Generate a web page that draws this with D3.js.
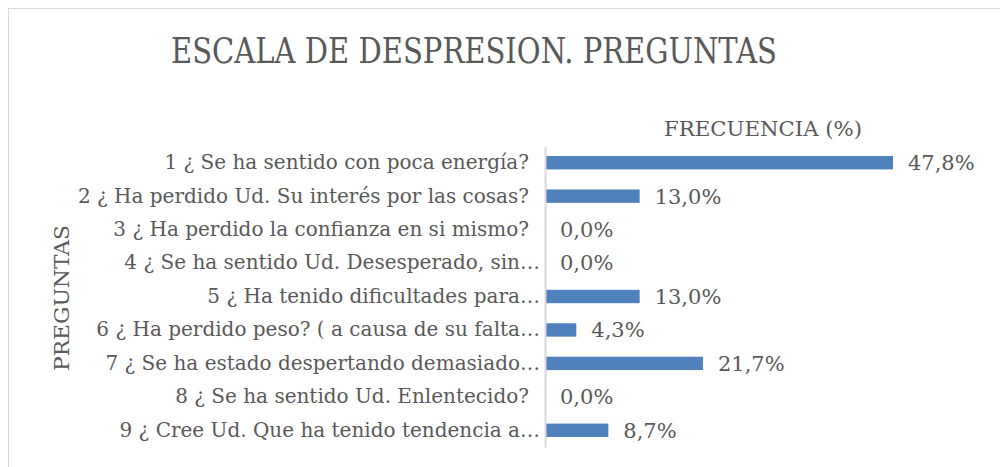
<!DOCTYPE html>
<html>
<head>
<meta charset="utf-8">
<script src="https://cdn.jsdelivr.net/npm/d3@7"></script>
<style>
  body { margin: 0; background: #fff; }
  text { font-family: "DejaVu Serif", serif; fill: #595959; }
</style>
</head>
<body>
<script>
  var w = 1000, h = 467;

  var preguntas = [
    "1 ¿ Se ha sentido con poca energía?",
    "2 ¿ Ha perdido Ud. Su interés por las cosas?",
    "3 ¿ Ha perdido la confianza en si mismo?",
    "4 ¿ Se ha sentido Ud. Desesperado, sin…",
    "5 ¿ Ha tenido dificultades para…",
    "6 ¿ Ha perdido peso? ( a causa de su falta…",
    "7 ¿ Se ha estado despertando demasiado…",
    "8 ¿ Se ha sentido Ud. Enlentecido?",
    "9 ¿ Cree Ud. Que ha tenido tendencia a…"
  ];
  var frecuencia = [47.8, 13.0, 0.0, 0.0, 13.0, 4.3, 21.7, 0.0, 8.7];

  var svg = d3.select("body").append("svg")
    .attr("width", w)
    .attr("height", h);

  // chart frame
  svg.append("rect")
    .attr("x", 8.5).attr("y", 8.5)
    .attr("width", w + 10).attr("height", h + 10)
    .attr("fill", "none")
    .attr("stroke", "#d9d9d9");

  var xScale = d3.scaleLinear()
    .domain([0, 50])
    .range([545, 909]);

  var yScale = d3.scaleBand()
    .domain(preguntas)
    .range([146, 447])
    .paddingInner(0.6)
    .paddingOuter(0.3);

  // title
  svg.append("text")
    .attr("x", 474).attr("y", 63)
    .attr("text-anchor", "middle")
    .attr("font-size", 36)
    .attr("textLength", 606)
    .attr("lengthAdjust", "spacingAndGlyphs")
    .text("ESCALA DE DESPRESION. PREGUNTAS");

  svg.append("text")
    .attr("x", 763).attr("y", 136)
    .attr("text-anchor", "middle")
    .attr("font-size", 21)
    .attr("textLength", 198)
    .attr("lengthAdjust", "spacingAndGlyphs")
    .text("FRECUENCIA (%)");

  svg.append("text")
    .attr("transform", "translate(69,298) rotate(-90)")
    .attr("text-anchor", "middle")
    .attr("font-size", 21)
    .attr("textLength", 146)
    .attr("lengthAdjust", "spacingAndGlyphs")
    .text("PREGUNTAS");

  // bars
  svg.selectAll(".bar")
    .data(frecuencia)
    .enter().append("rect")
    .attr("class", "bar")
    .attr("x", xScale(0))
    .attr("y", function (d, i) { return yScale(preguntas[i]); })
    .attr("width", function (d) { return xScale(d) - xScale(0); })
    .attr("height", yScale.bandwidth())
    .attr("fill", "#4f81bd");

  // category axis
  var yAxis = d3.axisLeft(yScale).tickSize(0).tickPadding(16);
  svg.append("g")
    .attr("transform", "translate(" + xScale(0) + ",0)")
    .call(function (g) {
      g.call(yAxis);
      g.select(".domain").attr("stroke", "#d9d9d9").attr("stroke-width", 2);
      g.selectAll(".tick text")
        .attr("font-family", "DejaVu Serif")
        .attr("font-size", 20)
        .attr("fill", "#595959")
        // truncated labels run a little further right, as in the source
        .attr("dx", function (d) { return d.slice(-1) === "…" ? 11 : 0; });
    });

  // value labels
  svg.selectAll(".val")
    .data(frecuencia)
    .enter().append("text")
    .attr("class", "val")
    .attr("x", function (d) { return xScale(d) + 15; })
    .attr("y", function (d, i) { return yScale(preguntas[i]) + yScale.bandwidth() / 2; })
    .attr("dy", "0.35em")
    .attr("font-size", 21)
    .text(function (d) { return d.toFixed(1).replace(".", ",") + "%"; });
</script>
</body>
</html>
